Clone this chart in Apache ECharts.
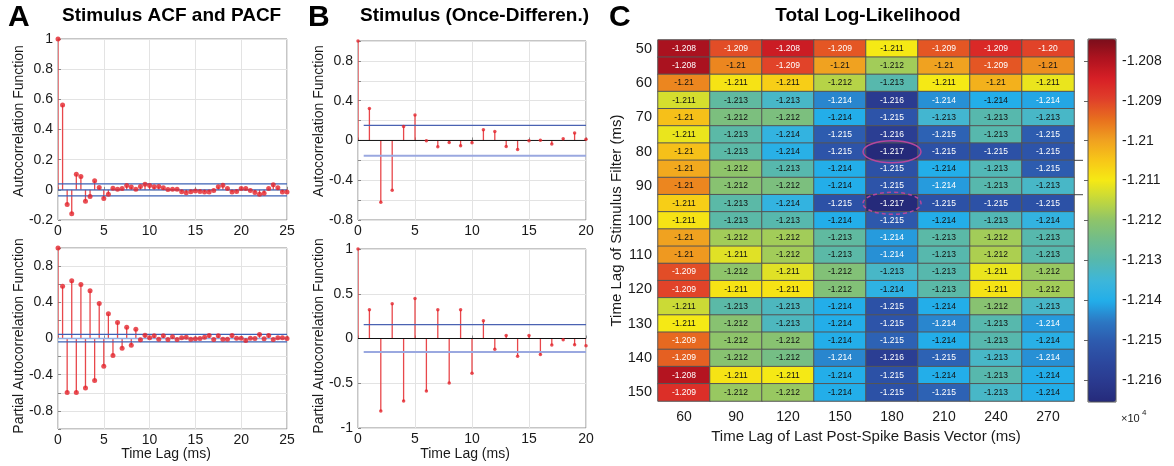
<!DOCTYPE html>
<html><head><meta charset="utf-8">
<script src="https://cdn.jsdelivr.net/npm/echarts@6/dist/echarts.min.js"></script>
<style>html,body{margin:0;padding:0;background:#fff}#c{width:1174px;height:466px}</style>
</head><body><div id="c"></div>
<script>
// ---------- DATA ----------
const lagsA = [0,0.5,1,1.5,2,2.5,3,3.5,4,4.5,5,5.5,6,6.5,7,7.5,8,8.5,9,9.5,10,10.5,11,11.5,12,12.5,13,13.5,14,14.5,15,15.5,16,16.5,17,17.5,18,18.5,19,19.5,20,20.5,21,21.5,22,22.5,23,23.5,24,24.5,25];
const acfA = [1,0.563,-0.097,-0.159,0.104,0.088,-0.075,-0.044,0.06,0.015,-0.057,-0.029,0.011,0.004,0.009,0.029,0.018,0.004,0.022,0.037,0.029,0.02,0.022,0.013,0.002,0.004,0.004,-0.013,-0.02,-0.013,-0.007,-0.011,-0.015,-0.015,-0.004,0.02,0.031,0.009,-0.015,-0.011,0.009,0.009,-0.004,-0.018,-0.029,-0.022,0.009,0.033,0.013,-0.015,-0.015];
const pacfA = [1,0.576,-0.598,0.638,-0.598,0.598,-0.546,0.528,-0.465,0.387,-0.306,0.273,-0.188,0.177,-0.107,0.125,-0.074,0.103,-0.015,0.037,0.007,0.03,-0.007,0.03,-0.011,0.018,-0.011,0.007,0.015,-0.007,-0.004,0,0.015,0.033,-0.011,0.03,-0.007,-0.007,0.033,0.004,0.004,-0.022,0.004,0,0.044,-0.004,0.033,-0.011,0.007,0.007,0];
const confA = [0.04, -0.04];
const confPA = [0.045, -0.038];
const lagsB = [0,1,2,3,4,5,6,7,8,9,10,11,12,13,14,15,16,17,18,19,20];
const acfB = [1,0.322,-0.621,-0.5,0.141,0.255,-0.003,-0.064,-0.02,-0.054,-0.023,0.107,0.091,-0.06,-0.091,-0.003,0.003,-0.037,0.017,0.074,0.013];
const pacfB = [1,0.32,-0.81,0.387,-0.699,0.446,-0.587,0.32,-0.498,0.32,-0.387,0.197,-0.119,0.033,-0.197,0.033,-0.178,-0.074,-0.015,-0.071,-0.082];
const confB = [0.151, -0.154];
const confPB = [0.156, -0.152];

const heatCols = ['60','90','120','150','180','210','240','270'];
const heatRows = ['50','55','60','65','70','75','80','85','90','95','100','105','110','115','120','125','130','135','140','145','150'];
const logLik = [
 [-1.2079,-1.2091,-1.2083,-1.2092,-1.2110,-1.2092,-1.2086,-1.2090],
 [-1.2079,-1.2097,-1.2090,-1.2100,-1.2118,-1.2100,-1.2092,-1.2098],
 [-1.2097,-1.2109,-1.2106,-1.2116,-1.2130,-1.2110,-1.2102,-1.2111],
 [-1.2113,-1.2128,-1.2133,-1.2144,-1.2160,-1.2143,-1.2140,-1.2141],
 [-1.2104,-1.2123,-1.2123,-1.2140,-1.2152,-1.2134,-1.2130,-1.2133],
 [-1.2111,-1.2129,-1.2137,-1.2150,-1.2159,-1.2149,-1.2130,-1.2150],
 [-1.2104,-1.2129,-1.2139,-1.2152,-1.2166,-1.2153,-1.2153,-1.2152],
 [-1.2101,-1.2120,-1.2130,-1.2140,-1.2153,-1.2140,-1.2131,-1.2150],
 [-1.2097,-1.2121,-1.2123,-1.2140,-1.2152,-1.2142,-1.2130,-1.2133],
 [-1.2106,-1.2129,-1.2137,-1.2153,-1.2166,-1.2153,-1.2153,-1.2153],
 [-1.2109,-1.2129,-1.2130,-1.2140,-1.2151,-1.2140,-1.2131,-1.2137],
 [-1.2100,-1.2118,-1.2118,-1.2128,-1.2142,-1.2129,-1.2118,-1.2130],
 [-1.2099,-1.2112,-1.2118,-1.2129,-1.2143,-1.2130,-1.2117,-1.2130],
 [-1.2091,-1.2120,-1.2112,-1.2122,-1.2133,-1.2130,-1.2111,-1.2119],
 [-1.2090,-1.2109,-1.2109,-1.2122,-1.2138,-1.2129,-1.2109,-1.2118],
 [-1.2114,-1.2129,-1.2132,-1.2140,-1.2153,-1.2140,-1.2121,-1.2133],
 [-1.2110,-1.2121,-1.2132,-1.2140,-1.2152,-1.2144,-1.2130,-1.2142],
 [-1.2094,-1.2120,-1.2121,-1.2140,-1.2149,-1.2140,-1.2130,-1.2139],
 [-1.2093,-1.2121,-1.2124,-1.2144,-1.2159,-1.2149,-1.2133,-1.2143],
 [-1.2080,-1.2109,-1.2110,-1.2140,-1.2153,-1.2140,-1.2130,-1.2140],
 [-1.2087,-1.2119,-1.2119,-1.2140,-1.2153,-1.2149,-1.2133,-1.2140]
];
const cellTextOverride = {'0,7': '-1.20'};
const cbTicks = [-1.208,-1.209,-1.21,-1.211,-1.212,-1.213,-1.214,-1.215,-1.216];
const cbMin = -1.21655, cbMax = -1.20745;
const cmap = ['#252a7a','#2a3a8f','#2c489e','#2d5aae','#2c78c4','#22aeea','#3db6da','#56b8ae','#6fbc8c','#8ec46a','#c1d73e','#f6e914','#f7c618','#f0a020','#e8701e','#e0402a','#d82026','#b0131f','#7a0e1b'];

// ---------- CHART ----------
const FONT = "'Liberation Sans', Arial, Helvetica, sans-serif";
const chart = echarts.init(document.getElementById('c'));
const TXT = '#1a1a1a';

function gridBox(l, t, w, h) {
  return {left:l, top:t, width:w, height:h, show:true, borderColor:'#8c8c8c', borderWidth:1, backgroundColor:'#fff', outerBoundsMode:'none', containLabel:false};
}
function fmt1(v){ return String(Math.round(v*10)/10); }
function xAx(gi, max) {
  return {gridIndex:gi, type:'value', min:0, max:max, interval:5,
    axisLine:{show:false}, axisTick:{show:true, inside:true, length:3, lineStyle:{color:'#888'}},
    axisLabel:{fontSize:14, color:TXT, fontFamily:FONT, margin:4},
    splitLine:{show:true, lineStyle:{color:'#e3e3e3', width:1}}};
}
function yAx(gi, min, max, interval, formatter) {
  return {gridIndex:gi, type:'value', min:min, max:max, interval:interval,
    axisLine:{show:false}, axisTick:{show:true, inside:true, length:3, lineStyle:{color:'#888'}},
    axisLabel:{fontSize:14, color:TXT, fontFamily:FONT, margin:5, formatter:formatter},
    splitLine:{show:true, lineStyle:{color:'#e3e3e3', width:1}}};
}
function stems(ai, lags, vals, color, width) {
  return {type:'custom', xAxisIndex:ai, yAxisIndex:ai, silent:true, z:2, clip:true,
    data: lags.map((l,i)=>[l, vals[i]]),
    renderItem:(params, api)=>{
      const p0 = api.coord([api.value(0), 0]);
      const p1 = api.coord([api.value(0), api.value(1)]);
      return {type:'line', shape:{x1:p0[0], y1:p0[1], x2:p1[0], y2:p1[1]}, style:{stroke:color, lineWidth:width}};
    }};
}
function dots(ai, lags, vals, size) {
  return {type:'scatter', xAxisIndex:ai, yAxisIndex:ai, silent:true, z:5, symbolSize:size,
    itemStyle:{color:'#e3232a'}, data: lags.map((l,i)=>[l, vals[i]])};
}
function hline(ai, x0, x1, y, color, width) {
  return {type:'line', xAxisIndex:ai, yAxisIndex:ai, silent:true, z:3, symbol:'none',
    lineStyle:{color:color, width:width}, data:[[x0,y],[x1,y]]};
}

const heatData = [];
logLik.forEach((row, r) => row.forEach((v, c) => {
  const white = (v > -1.20945) || (v < -1.21405);
  heatData.push({value:[c, r, v], label:{color: white ? '#ffffff' : '#111111'}, key: r+','+c});
}));

const series = [
  stems(0, lagsA, acfA, '#e8474b', 1.3),
  hline(0, 0, 25, confA[0], '#3d62b6', 1.2),
  hline(0, 0, 25, 0, '#3d62b6', 1.2),
  hline(0, 0, 25, confA[1], '#3d62b6', 1.2),
  dots(0, lagsA, acfA, 5),
  stems(1, lagsA, pacfA, '#e8474b', 1.3),
  hline(1, 0, 25, confPA[0], '#3d62b6', 1.2),
  hline(1, 0, 25, 0, '#8fb0e6', 1.5),
  hline(1, 0, 25, confPA[1], '#3d62b6', 1.2),
  dots(1, lagsA, pacfA, 5),
  hline(2, 0, 20, 0, '#111', 1),
  stems(2, lagsB, acfB, '#e8474b', 1.3),
  hline(2, 0.5, 20, confB[0], '#4a62b2', 1.2),
  hline(2, 0.5, 20, confB[1], '#9aa8e0', 2),
  dots(2, lagsB, acfB, 3.5),
  hline(3, 0, 20, 0, '#111', 1),
  stems(3, lagsB, pacfB, '#e8474b', 1.3),
  hline(3, 0.5, 20, confPB[0], '#4a62b2', 1.2),
  hline(3, 0.5, 20, confPB[1], '#9aa8e0', 2),
  dots(3, lagsB, pacfB, 3.5),
];
const heatIdx = series.length;
series.push({
  type:'heatmap', xAxisIndex:4, yAxisIndex:4, data:heatData, silent:true,
  itemStyle:{borderColor:'#555', borderWidth:1},
  label:{show:true, fontSize:8.5, fontFamily:FONT,
    formatter:(p)=>{ const k = p.value[1]+','+p.value[0]; if (cellTextOverride[k]) return cellTextOverride[k]; return String(parseFloat(p.value[2].toFixed(3))); }},
  emphasis:{disabled:true}
});

const option = {
  animation:false,
  backgroundColor:'#fff',
  grid:[
    gridBox(58, 39, 229, 181),
    gridBox(58, 248, 229, 181),
    gridBox(358, 41, 228, 179),
    gridBox(358, 249, 228, 179),
    {left:658, top:40, width:416, height:361, show:false, outerBoundsMode:'none', containLabel:false},
    {left:1088, top:39, width:28, height:363, show:false, outerBoundsMode:'none', containLabel:false}
  ],
  xAxis:[
    xAx(0, 25), xAx(1, 25), xAx(2, 20), xAx(3, 20),
    {gridIndex:4, type:'category', data:heatCols, axisLine:{show:false}, axisTick:{show:false},
      axisLabel:{fontSize:14, color:TXT, fontFamily:FONT, margin:9},
      name:'Time Lag of Last Post-Spike Basis Vector (ms)', nameLocation:'middle', nameGap:28,
      nameTextStyle:{fontSize:15, color:TXT, fontFamily:FONT}},
    {gridIndex:5, type:'value', show:false, min:0, max:1}
  ],
  yAxis:[
    yAx(0, -0.2, 1, 0.2, fmt1),
    yAx(1, -1, 1, 0.2, (v)=> (Math.round(v*10)%4===0 && Math.abs(v)<0.95) ? fmt1(v) : ''),
    yAx(2, -0.8, 1, 0.2, (v)=> (Math.round(v*10)%4===0 && Math.abs(v)<0.95) ? fmt1(v) : ''),
    yAx(3, -1, 1, 0.5, (v)=> String(Math.round(v*10)/10)),
    {gridIndex:4, type:'category', data:heatRows, inverse:true, axisLine:{show:false}, axisTick:{show:false},
      axisLabel:{fontSize:14.5, color:TXT, fontFamily:FONT, margin:6, interval:1},
      name:'Time Lag of Stimulus Filter (ms)', nameLocation:'middle', nameGap:30, nameRotate:90,
      nameTextStyle:{fontSize:15, color:TXT, fontFamily:FONT}},
    {gridIndex:5, type:'value', position:'right', min:cbMin, max:cbMax,
      axisLine:{show:false}, splitLine:{show:false},
      axisTick:{show:true, inside:true, length:4, customValues:cbTicks, lineStyle:{color:'#666'}},
      axisLabel:{show:true, customValues:cbTicks, fontSize:14, color:TXT, fontFamily:FONT, margin:6, formatter:(v)=>String(v)}}
  ],
  visualMap:[{
    type:'continuous', seriesIndex:heatIdx, min:cbMin, max:cbMax, inRange:{color:cmap},
    left:1088, top:39, itemWidth:28, itemHeight:363, calculable:false, padding:0, hoverLink:false,
    orient:'vertical', show:true
  }],
  series: series,
  graphic:[
    {id:'tA', type:'text', left:8, top:3, style:{text:'A', font:'bold 30px '+FONT, fill:'#000'}},
    {id:'tAt', type:'text', left:62, top:6, style:{text:'Stimulus ACF and PACF', font:'bold 19px '+FONT, fill:'#000'}},
    {id:'tB', type:'text', left:308, top:3, style:{text:'B', font:'bold 30px '+FONT, fill:'#000'}},
    {id:'tBt', type:'text', left:360, top:6, style:{text:'Stimulus (Once-Differen.)', font:'bold 19px '+FONT, fill:'#000'}},
    {id:'tC', type:'text', left:609, top:3, style:{text:'C', font:'bold 30px '+FONT, fill:'#000'}},
    {id:'tCt', type:'text', x:868, y:16, style:{text:'Total Log-Likelihood', font:'bold 19px '+FONT, fill:'#000', textAlign:'center', textVerticalAlign:'middle', align:'center', verticalAlign:'middle'}},
    {id:'yA1', type:'text', x:19, y:121, rotation:Math.PI/2, style:{text:'Autocorrelation Function', font:'14px '+FONT, fill:TXT, textAlign:'center', textVerticalAlign:'middle', align:'center', verticalAlign:'middle'}},
    {id:'yA2', type:'text', x:19, y:336, rotation:Math.PI/2, style:{text:'Partial Autocorrelation Function', font:'14px '+FONT, fill:TXT, textAlign:'center', textVerticalAlign:'middle', align:'center', verticalAlign:'middle'}},
    {id:'yB1', type:'text', x:319, y:121, rotation:Math.PI/2, style:{text:'Autocorrelation Function', font:'14px '+FONT, fill:TXT, textAlign:'center', textVerticalAlign:'middle', align:'center', verticalAlign:'middle'}},
    {id:'yB2', type:'text', x:319, y:336, rotation:Math.PI/2, style:{text:'Partial Autocorrelation Function', font:'14px '+FONT, fill:TXT, textAlign:'center', textVerticalAlign:'middle', align:'center', verticalAlign:'middle'}},
    {id:'xA', type:'text', x:166, y:454, style:{text:'Time Lag (ms)', font:'14px '+FONT, fill:TXT, textAlign:'center', textVerticalAlign:'middle', align:'center', verticalAlign:'middle'}},
    {id:'xB', type:'text', x:465, y:454, style:{text:'Time Lag (ms)', font:'14px '+FONT, fill:TXT, textAlign:'center', textVerticalAlign:'middle', align:'center', verticalAlign:'middle'}},
    {id:'cbBox', type:'rect', z:100, shape:{x:1088, y:39, width:28, height:363}, style:{fill:'none', stroke:'#555', lineWidth:1}},
    {id:'x10', type:'text', left:1121, top:413, style:{text:'\u00d710', font:'11px '+FONT, fill:TXT}},
    {id:'x10e', type:'text', left:1142, top:409, style:{text:'4', font:'8px '+FONT, fill:TXT}}
  ]
};
chart.setOption(option);

// annotations anchored on heatmap cells
const cSolid = chart.convertToPixel({seriesIndex:heatIdx}, [4, 6]);
const cDash = chart.convertToPixel({seriesIndex:heatIdx}, [4, 9]);
const edgeA = chart.convertToPixel({seriesIndex:heatIdx}, [7, 6]);
const edgeB = chart.convertToPixel({seriesIndex:heatIdx}, [7, 9]);
const halfRow = 361 / heatRows.length / 2;
chart.setOption({graphic:[
  {id:'ellS', type:'ellipse', z:50, shape:{cx:cSolid[0], cy:cSolid[1], rx:29, ry:11}, style:{fill:'none', stroke:'#b5479d', lineWidth:1.5}},
  {id:'ellD', type:'ellipse', z:50, shape:{cx:cDash[0], cy:cDash[1], rx:29, ry:11}, style:{fill:'none', stroke:'#b5479d', lineWidth:1.5, lineDash:[4,3]}},
  {id:'pl1', type:'line', z:50, shape:{x1:edgeA[0]+26, y1:edgeA[1]+halfRow, x2:1083, y2:edgeA[1]+halfRow}, style:{stroke:'#444', lineWidth:1}},
  {id:'pl2', type:'line', z:50, shape:{x1:edgeB[0]+26, y1:edgeB[1]-halfRow, x2:1083, y2:edgeB[1]-halfRow}, style:{stroke:'#444', lineWidth:1}}
]});
</script>
</body></html>
